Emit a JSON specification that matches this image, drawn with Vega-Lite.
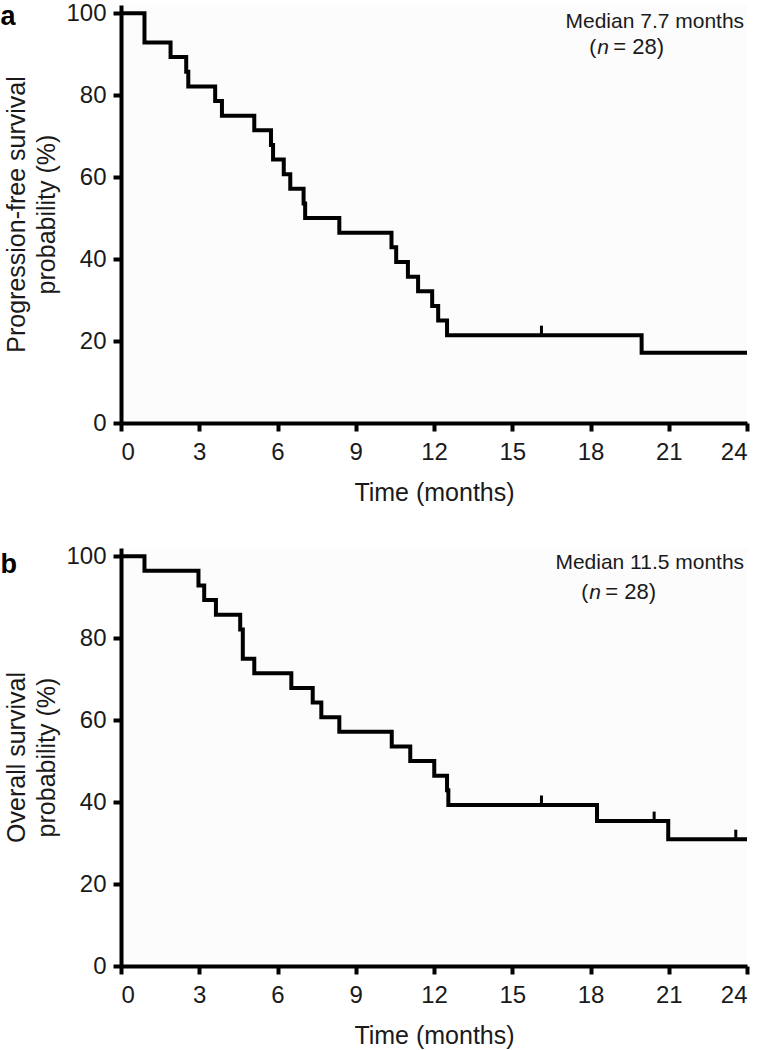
{
  "$schema": "https://vega.github.io/schema/vega-lite/v6.json",
  "background": "white",
  "autosize": {"type": "pad"},
  "padding": {"left": 0, "top": 1, "right": 10, "bottom": 5},
  "spacing": 39,
  "datasets": {
    "pfs": [
      {"t": 0, "s": 100}, {"t": 0.9, "s": 92.86}, {"t": 1.9, "s": 89.29}, {"t": 2.5, "s": 85.71},
      {"t": 2.58, "s": 82.14}, {"t": 3.61, "s": 78.57}, {"t": 3.87, "s": 75.0}, {"t": 5.11, "s": 71.43},
      {"t": 5.75, "s": 67.86}, {"t": 5.83, "s": 64.29}, {"t": 6.24, "s": 60.71}, {"t": 6.49, "s": 57.14},
      {"t": 7.0, "s": 53.57}, {"t": 7.06, "s": 50.0}, {"t": 8.37, "s": 46.43}, {"t": 10.37, "s": 42.86},
      {"t": 10.55, "s": 39.29}, {"t": 11.0, "s": 35.71}, {"t": 11.39, "s": 32.14}, {"t": 11.93, "s": 28.57},
      {"t": 12.16, "s": 25.0}, {"t": 12.5, "s": 21.43}, {"t": 19.96, "s": 17.14}, {"t": 24, "s": 17.14}
    ],
    "pfsCensored": [{"t": 16.12, "s": 21.43}],
    "os": [
      {"t": 0, "s": 100}, {"t": 0.9, "s": 96.43}, {"t": 2.97, "s": 92.86}, {"t": 3.19, "s": 89.29},
      {"t": 3.64, "s": 85.71}, {"t": 4.57, "s": 82.14}, {"t": 4.67, "s": 75.0}, {"t": 5.11, "s": 71.43},
      {"t": 6.53, "s": 67.86}, {"t": 7.35, "s": 64.29}, {"t": 7.68, "s": 60.71}, {"t": 8.37, "s": 57.14},
      {"t": 10.38, "s": 53.57}, {"t": 11.09, "s": 50.0}, {"t": 12.01, "s": 46.43}, {"t": 12.5, "s": 42.86},
      {"t": 12.55, "s": 39.29}, {"t": 18.25, "s": 35.36}, {"t": 20.98, "s": 30.94}, {"t": 24, "s": 30.94}
    ],
    "osCensored": [{"t": 16.12, "s": 39.29}, {"t": 20.44, "s": 35.36}, {"t": 23.57, "s": 30.94}]
  },
  "vconcat": [
    {
      "width": 626,
      "height": 418,
      "layer": [
        {
          "data": {"name": "pfs"},
          "mark": {"type": "line", "interpolate": "step-after", "color": "#000", "strokeWidth": 4, "strokeJoin": "miter"},
          "encoding": {
            "x": {"field": "t", "type": "quantitative", "scale": {"domain": [0, 24], "nice": false},
                  "axis": {"values": [0, 3, 6, 9, 12, 15, 18, 21, 24], "title": "Time (months)"}},
            "y": {"field": "s", "type": "quantitative", "scale": {"domain": [0, 102], "nice": false},
                  "axis": {"values": [0, 20, 40, 60, 80, 100], "title": ["Progression-free survival", "probability (%)"]}}
          }
        },
        {
          "data": {"name": "pfsCensored"},
          "mark": {"type": "tick", "orient": "vertical", "color": "#000", "opacity": 1, "size": 11, "thickness": 3, "yOffset": -4},
          "encoding": {
            "x": {"field": "t", "type": "quantitative"},
            "y": {"field": "s", "type": "quantitative"}
          }
        },
        {
          "data": {"values": [{}]},
          "mark": {"type": "text", "align": "left", "baseline": "alphabetic", "font": "Liberation Sans", "fontSize": 27, "fontWeight": "bold", "color": "#000", "dx": 1},
          "encoding": {"x": {"datum": -4.66, "type": "quantitative"}, "y": {"datum": 97.2, "type": "quantitative"}, "text": {"value": "a"}}
        },
        {
          "data": {"values": [{}]},
          "mark": {"type": "text", "align": "right", "baseline": "alphabetic", "font": "Liberation Sans", "fontSize": 21, "color": "#1a1a1a"},
          "encoding": {"x": {"datum": 23.89, "type": "quantitative"}, "y": {"datum": 96.4, "type": "quantitative"}, "text": {"value": "Median 7.7 months"}}
        },
        {
          "data": {"values": [{}]},
          "mark": {"type": "text", "align": "right", "baseline": "alphabetic", "font": "Liberation Sans", "fontSize": 21, "color": "#1a1a1a", "dx": -1},
          "encoding": {"x": {"datum": 18.26, "type": "quantitative"}, "y": {"datum": 90.0, "type": "quantitative"}, "text": {"value": "("}}
        },
        {
          "data": {"values": [{}]},
          "mark": {"type": "text", "align": "left", "baseline": "alphabetic", "font": "Liberation Sans", "fontSize": 21, "fontStyle": "italic", "color": "#1a1a1a"},
          "encoding": {"x": {"datum": 18.26, "type": "quantitative"}, "y": {"datum": 90.0, "type": "quantitative"}, "text": {"value": "n"}}
        },
        {
          "data": {"values": [{}]},
          "mark": {"type": "text", "align": "left", "baseline": "alphabetic", "font": "Liberation Sans", "fontSize": 22, "color": "#1a1a1a", "dx": 16},
          "encoding": {"x": {"datum": 18.26, "type": "quantitative"}, "y": {"datum": 90.0, "type": "quantitative"}, "text": {"value": "= 28)"}}
        }
      ]
    },
    {
      "width": 626,
      "height": 418,
      "layer": [
        {
          "data": {"name": "os"},
          "mark": {"type": "line", "interpolate": "step-after", "color": "#000", "strokeWidth": 4, "strokeJoin": "miter"},
          "encoding": {
            "x": {"field": "t", "type": "quantitative", "scale": {"domain": [0, 24], "nice": false},
                  "axis": {"values": [0, 3, 6, 9, 12, 15, 18, 21, 24], "title": "Time (months)"}},
            "y": {"field": "s", "type": "quantitative", "scale": {"domain": [0, 102], "nice": false},
                  "axis": {"values": [0, 20, 40, 60, 80, 100], "title": ["Overall survival", "probability (%)"]}}
          }
        },
        {
          "data": {"name": "osCensored"},
          "mark": {"type": "tick", "orient": "vertical", "color": "#000", "opacity": 1, "size": 11, "thickness": 3, "yOffset": -4},
          "encoding": {
            "x": {"field": "t", "type": "quantitative"},
            "y": {"field": "s", "type": "quantitative"}
          }
        },
        {
          "data": {"values": [{}]},
          "mark": {"type": "text", "align": "left", "baseline": "alphabetic", "font": "Liberation Sans", "fontSize": 27, "fontWeight": "bold", "color": "#000", "dx": 1},
          "encoding": {"x": {"datum": -4.66, "type": "quantitative"}, "y": {"datum": 96.0, "type": "quantitative"}, "text": {"value": "b"}}
        },
        {
          "data": {"values": [{}]},
          "mark": {"type": "text", "align": "right", "baseline": "alphabetic", "font": "Liberation Sans", "fontSize": 21, "color": "#1a1a1a"},
          "encoding": {"x": {"datum": 23.89, "type": "quantitative"}, "y": {"datum": 96.9, "type": "quantitative"}, "text": {"value": "Median 11.5 months"}}
        },
        {
          "data": {"values": [{}]},
          "mark": {"type": "text", "align": "right", "baseline": "alphabetic", "font": "Liberation Sans", "fontSize": 21, "color": "#1a1a1a", "dx": -1},
          "encoding": {"x": {"datum": 17.95, "type": "quantitative"}, "y": {"datum": 89.6, "type": "quantitative"}, "text": {"value": "("}}
        },
        {
          "data": {"values": [{}]},
          "mark": {"type": "text", "align": "left", "baseline": "alphabetic", "font": "Liberation Sans", "fontSize": 21, "fontStyle": "italic", "color": "#1a1a1a"},
          "encoding": {"x": {"datum": 17.95, "type": "quantitative"}, "y": {"datum": 89.6, "type": "quantitative"}, "text": {"value": "n"}}
        },
        {
          "data": {"values": [{}]},
          "mark": {"type": "text", "align": "left", "baseline": "alphabetic", "font": "Liberation Sans", "fontSize": 22, "color": "#1a1a1a", "dx": 16},
          "encoding": {"x": {"datum": 17.95, "type": "quantitative"}, "y": {"datum": 89.6, "type": "quantitative"}, "text": {"value": "= 28)"}}
        }
      ]
    }
  ],
  "config": {
    "view": {"fill": "#fcfcfc", "stroke": null},
    "axis": {
      "grid": false,
      "domainColor": "#000",
      "domainWidth": 4,
      "tickColor": "#000",
      "tickWidth": 4,
      "tickSize": 8,
      "labelFont": "Liberation Sans",
      "labelFontSize": 24,
      "labelColor": "#1a1a1a",
      "titleFont": "Liberation Sans",
      "titleFontSize": 25,
      "titleFontWeight": "normal",
      "titleColor": "#1a1a1a"
    },
    "axisX": {"labelPadding": 9, "titlePadding": 16},
    "axisY": {"labelPadding": 7, "titlePadding": 6, "titleLineHeight": 30}
  }
}
